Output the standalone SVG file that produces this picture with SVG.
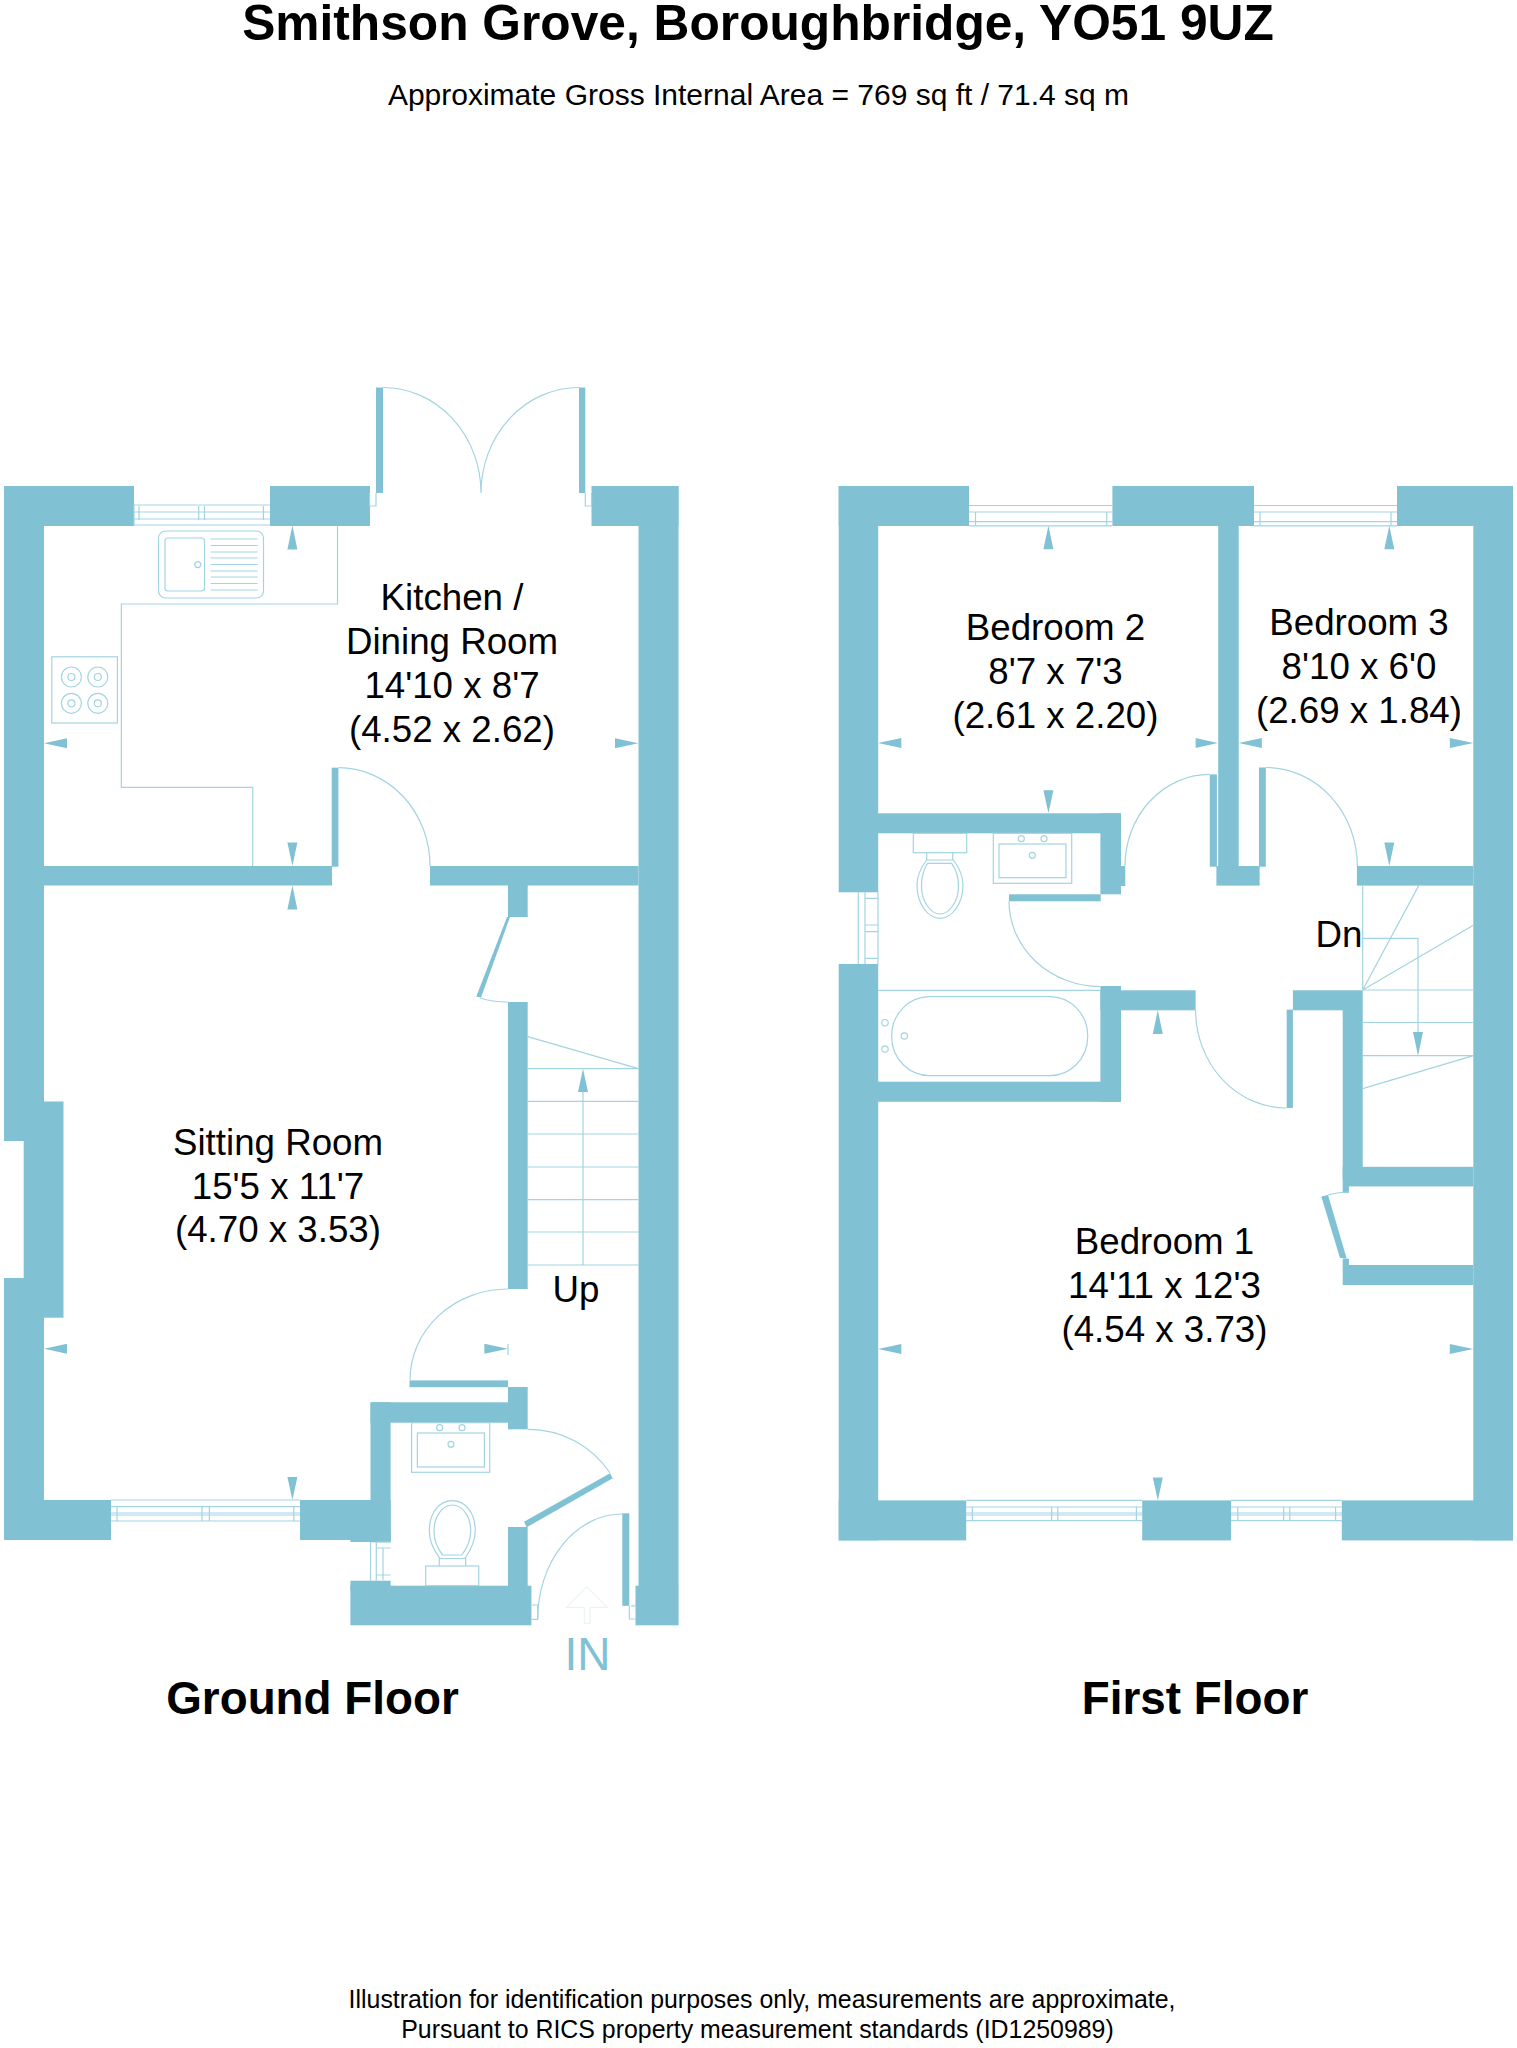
<svg xmlns="http://www.w3.org/2000/svg" width="1517" height="2048" viewBox="0 0 1517 2048">
<style>
.w{fill:#80c1d4;stroke:none}
.l{fill:none;stroke:#a3d4e1;stroke-width:1.2}
text{font-family:"Liberation Sans",Arial,sans-serif;fill:#000;text-anchor:middle}
.r{font-size:36.7px}
.h{font-size:45.8px;font-weight:bold}
</style>
<rect width="1517" height="2048" fill="#fff"/>
<g id="title">
<text x="758" y="40" font-size="49.7" font-weight="bold">Smithson Grove, Boroughbridge, YO51 9UZ</text>
<text x="758.5" y="104.5" font-size="30">Approximate Gross Internal Area = 769 sq ft / 71.4 sq m</text>
</g>
<g id="ground-floor">
<g id="gf-walls" class="w">
<rect x="4" y="486" width="130" height="40"/><rect x="270" y="486" width="100" height="40"/><rect x="591.5" y="486" width="87" height="40"/>
<rect x="4" y="486" width="40" height="616"/><rect x="638.5" y="486" width="40" height="1100"/>
<rect x="4" y="1101.5" width="59.5" height="39.5"/><rect x="23.7" y="1141" width="39.8" height="137"/><rect x="4" y="1278" width="59.5" height="39.7"/>
<rect x="4" y="1317" width="40" height="223"/><rect x="4" y="1500" width="107" height="40"/>
<rect x="44" y="866" width="288" height="19.5"/><rect x="430" y="866" width="208.5" height="19.5"/>
<rect x="508" y="885" width="19.7" height="32"/><rect x="508" y="1002" width="19.7" height="287"/>
<rect x="409.5" y="1380.4" width="98.5" height="6.8"/><rect x="508" y="1387" width="19.7" height="42.3"/>
<rect x="370.5" y="1402.3" width="138" height="20.4"/><rect x="370.5" y="1402.3" width="20.1" height="140"/>
<rect x="300" y="1500" width="90.6" height="40"/><rect x="350.4" y="1530" width="40.2" height="12"/>
<rect x="350.4" y="1580.7" width="40.2" height="10"/><rect x="350.4" y="1585.7" width="181" height="39.6"/>
<rect x="508" y="1527" width="19.7" height="60"/><rect x="635.5" y="1585.7" width="43.1" height="39.6"/>
</g>
<g id="gf-doors">
<rect class="w" x="376" y="387.5" width="7" height="105.5"/><rect class="w" x="579" y="387.5" width="6.3" height="105.5"/>
<path class="l" d="M383 387.5A98 105.5 0 0 1 481 493M579 387.5A98 105.5 0 0 0 481 493"/>
<path class="l" d="M369.6 493V506H376V493M585.3 493V506H591.5V493"/>
<rect class="w" x="331.7" y="767.7" width="6.7" height="99"/>
<path class="l" d="M338.4 767.7A91.6 98.3 0 0 1 430 866"/>
<polygon class="w" points="507,917 510,917 481,997.5 476.3,996.4"/>
<path class="l" d="M480 998C489 1001 498 1002 508 1002"/>
<path class="l" d="M508 1289A98 91 0 0 0 410 1380"/>
<polygon class="w" points="610,1473.3 612.7,1478.3 526.7,1527.3 524,1521.7"/>
<path class="l" d="M527.7 1429.3A98 98 0 0 1 610 1473"/>
<rect class="w" x="622.3" y="1513.3" width="7" height="92.5"/>
<path class="l" d="M622.3 1514A84.6 105 0 0 0 537.7 1619"/>
<path class="l" d="M531.4 1605H537.7V1619.3H531.4M629.3 1605.8V1619H635.5M631 1605.8H635.5"/>
</g>
<g id="gf-windows" class="l">
<path d="M134 505H270M134 512H270M134 519H270M134 525H270M139 506V520M198.7 506V520M204.5 506V520M263.4 506V520M134 505V525"/>
<path d="M111 1500H300M111 1506.7H300M111 1513H300M111 1515H300M111 1521H300M117 1507V1521M202 1507V1521M209.4 1507V1521M293.8 1507V1521"/>
<path d="M370.5 1542V1580.7M376.3 1542V1580.7M383 1548V1580M376.3 1542H390.6M376.3 1548H390.6M376.3 1575H390.6"/>
</g>
<g id="gf-kitchen" class="l">
<path d="M337.5 525.6V604H121.4V787.4H252.7V866"/>
<rect x="158.5" y="531" width="105" height="67" rx="7"/>
<rect x="165" y="538" width="39.5" height="53" rx="3"/>
<circle cx="197.8" cy="564.6" r="3"/>
<path d="M210.7 539H257.6M210.7 545.5H257.6M210.7 552H257.6M210.7 558H257.6M210.7 564.5H257.6M210.7 571H257.6M210.7 577H257.6M210.7 583.5H257.6M210.7 590H257.6"/>
<rect x="51.8" y="656.8" width="65.6" height="66.2"/>
<circle cx="71.4" cy="677" r="10"/><circle cx="97.8" cy="677" r="10"/><circle cx="71.4" cy="703.3" r="10"/><circle cx="97.8" cy="703.3" r="10"/>
<circle cx="71.4" cy="677" r="3.5"/><circle cx="97.8" cy="677" r="3.5"/><circle cx="71.4" cy="703.3" r="3.5"/><circle cx="97.8" cy="703.3" r="3.5"/>
</g>
<g id="gf-stairs" class="l">
<path d="M527.7 1036.7L638.4 1068.7M527.7 1068.7H638.4M527.7 1101.4H638.4M527.7 1134H638.4M527.7 1167H638.4M527.7 1199.6H638.4M527.7 1232H638.4M527.7 1265H638.4M583 1265V1092"/>
</g>
<g id="gf-wc" class="l">
<rect x="411.6" y="1422.7" width="78.1" height="49.6"/>
<rect x="417.4" y="1433" width="67" height="34"/>
<circle cx="439.7" cy="1427.7" r="3"/><circle cx="462" cy="1427.7" r="3"/><circle cx="451" cy="1444.3" r="3"/>
<path d="M440 1558.5C432 1548 429.3 1540 429.3 1531C429.3 1512 440 1500.7 452.3 1500.7C464.7 1500.7 475.3 1512 475.3 1531C475.3 1540 472 1548 465 1558.5Z"/>
<path d="M442.7 1555C436 1547 434 1539 434 1531C434 1516 443 1505 452.3 1505C462 1505 470.7 1516 470.7 1531C470.7 1539 468 1547 461.7 1555Z"/>
<path d="M439.3 1558V1566M465.7 1558V1566"/>
<rect x="425.7" y="1566" width="53" height="19.7"/>
</g>
<g id="gf-arrows" class="w">
<polygon points="292.4,525.6 287.4,549.4 297.4,549.4"/>
<polygon points="44,743.3 67,738.3 67,748.3"/><polygon points="638.4,743.3 615,738.3 615,748.3"/>
<polygon points="292.4,866 287.4,842.5 297.4,842.5"/><polygon points="292.4,885.5 287.4,909.6 297.4,909.6"/>
<polygon points="44,1348.7 67,1343.7 67,1353.7"/><polygon points="508,1348.7 484.4,1343.7 484.4,1353.7"/>
<polygon points="292.4,1500 287.4,1477 297.4,1477"/>
<polygon points="583,1068.7 578,1092 588,1092"/>
</g>
<path id="gf-small" class="l" d="M508 1344V1355"/>
<polygon id="in-arrow" fill="none" stroke="#eaf4f7" stroke-width="1.2" points="586.7,1586.7 607.3,1607.3 590,1607.3 590,1623.3 584.3,1623.3 584.3,1607.3 566.7,1607.3"/>
<g id="gf-labels">
<text class="r" x="452" y="610">Kitchen /</text><text class="r" x="452" y="654">Dining Room</text><text class="r" x="452" y="698">14'10 x 8'7</text><text class="r" x="452" y="742">(4.52 x 2.62)</text>
<text class="r" x="278" y="1155">Sitting Room</text><text class="r" x="278" y="1199">15'5 x 11'7</text><text class="r" x="278" y="1242">(4.70 x 3.53)</text>
<text class="r" x="576" y="1302">Up</text>
<text x="587.5" y="1669.5" font-size="46" style="fill:#80c1d4">IN</text>
<text class="h" x="312.5" y="1714">Ground Floor</text>
</g>
</g>
<g id="first-floor">
<g id="ff-walls" class="w">
<rect x="838.7" y="486" width="130.3" height="40"/><rect x="1112.4" y="486" width="141.6" height="40"/><rect x="1397" y="486" width="116" height="40"/>
<rect x="838.7" y="486" width="39.5" height="406.3"/><rect x="838.7" y="964" width="39.5" height="576.4"/><rect x="1473.3" y="486" width="39.7" height="1054.4"/>
<rect x="878" y="813.3" width="243" height="20"/><rect x="1100.4" y="813.3" width="20.6" height="81"/><rect x="1120" y="866" width="5.3" height="20"/>
<rect x="1009" y="894.3" width="91.7" height="7"/>
<rect x="1218.2" y="526" width="20.5" height="340"/><rect x="1216.4" y="866" width="43.2" height="19.6"/>
<rect x="1356.9" y="866" width="116.4" height="19.6"/>
<rect x="1100.4" y="986" width="20.6" height="115.8"/><rect x="1100.4" y="990.3" width="95.2" height="20"/>
<rect x="1292.9" y="990.3" width="69.8" height="20"/><rect x="1342.7" y="1010" width="20" height="170"/>
<rect x="878" y="1081.7" width="243" height="20.1"/>
<rect x="1342.7" y="1166.8" width="130.6" height="19.6"/><rect x="1342.7" y="1186" width="6.2" height="7"/>
<rect x="1342.7" y="1258.6" width="6.2" height="7"/><rect x="1342.7" y="1265" width="130.6" height="20"/>
<rect x="838.7" y="1500.4" width="127.5" height="40"/><rect x="1142.2" y="1500.4" width="88.9" height="40"/><rect x="1341.8" y="1500.4" width="171.2" height="40"/>
</g>
<g id="ff-doors">
<rect class="w" x="1209.8" y="774.4" width="7.1" height="92.3"/>
<path class="l" d="M1209.8 774.4A84.8 91.6 0 0 0 1125 866"/>
<rect class="w" x="1259" y="767.5" width="6.8" height="99.2"/>
<path class="l" d="M1265.8 767.5A91.5 98.5 0 0 1 1357.3 866"/>
<path class="l" d="M1009 901A91.4 85.5 0 0 0 1100.4 986.5"/>
<rect class="w" x="1286.7" y="1009.6" width="6.2" height="98.3"/>
<path class="l" d="M1195.6 1010A91 98 0 0 0 1286.7 1108"/>
<polygon class="w" points="1321.3,1196.4 1328,1195 1346.7,1258.6 1340,1257.9"/>
<path class="l" d="M1328 1195C1335 1193 1342 1192 1349 1192"/>
</g>
<g id="ff-windows" class="l">
<path d="M969 505.5H1112M969 512H1112M969 521.6H1112M969 525.8H1112M975.5 512V525.8M1106.7 512V525.8"/>
<path d="M1254 505.5H1397M1254 512H1397M1254 521.6H1397M1254 525.8H1397M1260 512V525.8M1391 512V525.8"/>
<path d="M858.3 892.3V964M865 892.3V964M878 892.3V964M865 898.3H878M865 925H878M865 931.7H878M865 958.3H878"/>
<path d="M966 1500.4H1142M966 1507H1142M966 1513H1142M966 1515H1142M966 1520.7H1142M972.4 1507V1520.7M1051.6 1507V1520.7M1057.8 1507V1520.7M1136.4 1507V1520.7"/>
<path d="M1231 1500.4H1342M1231 1507H1342M1231 1513H1342M1231 1515H1342M1231 1520.7H1342M1237.8 1507V1520.7M1283.6 1507V1520.7M1289.8 1507V1520.7M1335.6 1507V1520.7"/>
</g>
<g id="ff-bathroom" class="l">
<rect x="913.3" y="833.3" width="53.4" height="19.4"/>
<path d="M926.7 852.7V860M952.7 852.7V860"/>
<path d="M926.7 860C920.5 868 917 876 917 885C917 904 928 918.3 940 918.3C952 918.3 963 904 963 885C963 876 959.5 868 953.3 860Z"/>
<path d="M927.5 863.3C923.5 870 921.5 878 921.5 886C921.5 902 931 914 940 914C949 914 958.5 902 958.5 886C958.5 878 956.5 870 951.7 863.3Z"/>
<rect x="993.3" y="833.3" width="78.4" height="50"/><rect x="999" y="844" width="67" height="33.7"/>
<circle cx="1021.3" cy="838.7" r="3"/><circle cx="1044" cy="838.7" r="3"/><circle cx="1032.3" cy="855.3" r="3"/>
<path d="M878 990.3H1100.4"/>
<rect x="891.7" y="996.7" width="196" height="79" rx="38" ry="39"/>
<circle cx="885" cy="1022.7" r="3.2"/><circle cx="885" cy="1049" r="3.2"/><circle cx="904.3" cy="1036" r="3.2"/>
</g>
<g id="ff-stairs" class="l">
<path d="M1362.7 885.6V990M1362.7 990L1418.7 885.6M1362.7 990L1473.3 925.2M1362.7 990H1473.3M1362.7 938.3H1418V1032M1362.7 1022.5H1473.3M1362.7 1055.7H1473.3M1362.7 1088.6L1473.3 1055.7"/>
</g>
<g id="ff-arrows" class="w">
<polygon points="1048.4,525.8 1043.4,549.2 1053.4,549.2"/>
<polygon points="878,743 901.3,738 901.3,748"/><polygon points="1217.8,743 1195.6,738 1195.6,748"/>
<polygon points="1048.4,813.3 1043.4,790.2 1053.4,790.2"/>
<polygon points="1389.3,525.8 1384.3,549.2 1394.3,549.2"/>
<polygon points="1238.7,743 1261.8,738 1261.8,748"/><polygon points="1473.3,743 1449.8,738 1449.8,748"/>
<polygon points="1389.3,866 1384.3,842.6 1394.3,842.6"/>
<polygon points="1157.8,1010 1152.8,1034 1162.8,1034"/>
<polygon points="878,1349 901.3,1344 901.3,1354"/><polygon points="1473.3,1349 1449.8,1344 1449.8,1354"/>
<polygon points="1157.8,1500.4 1152.8,1477.5 1162.8,1477.5"/>
<polygon points="1418,1055.7 1413,1032 1423,1032"/>
</g>
<g id="ff-labels">
<text class="r" x="1055.5" y="640">Bedroom 2</text><text class="r" x="1055.5" y="684">8'7 x 7'3</text><text class="r" x="1055.5" y="728">(2.61 x 2.20)</text>
<text class="r" x="1359" y="635">Bedroom 3</text><text class="r" x="1359" y="679">8'10 x 6'0</text><text class="r" x="1359" y="723">(2.69 x 1.84)</text>
<text class="r" x="1339" y="947">Dn</text>
<text class="r" x="1164.5" y="1254">Bedroom 1</text><text class="r" x="1164.5" y="1298">14'11 x 12'3</text><text class="r" x="1164.5" y="1342">(4.54 x 3.73)</text>
<text class="h" x="1195" y="1714">First Floor</text>
</g>
</g>
<g id="footer">
<text x="762" y="2007.5" font-size="24.9">Illustration for identification purposes only, measurements are approximate,</text>
<text x="757.5" y="2037.5" font-size="24.9">Pursuant to RICS property measurement standards (ID1250989)</text>
</g>
</svg>
